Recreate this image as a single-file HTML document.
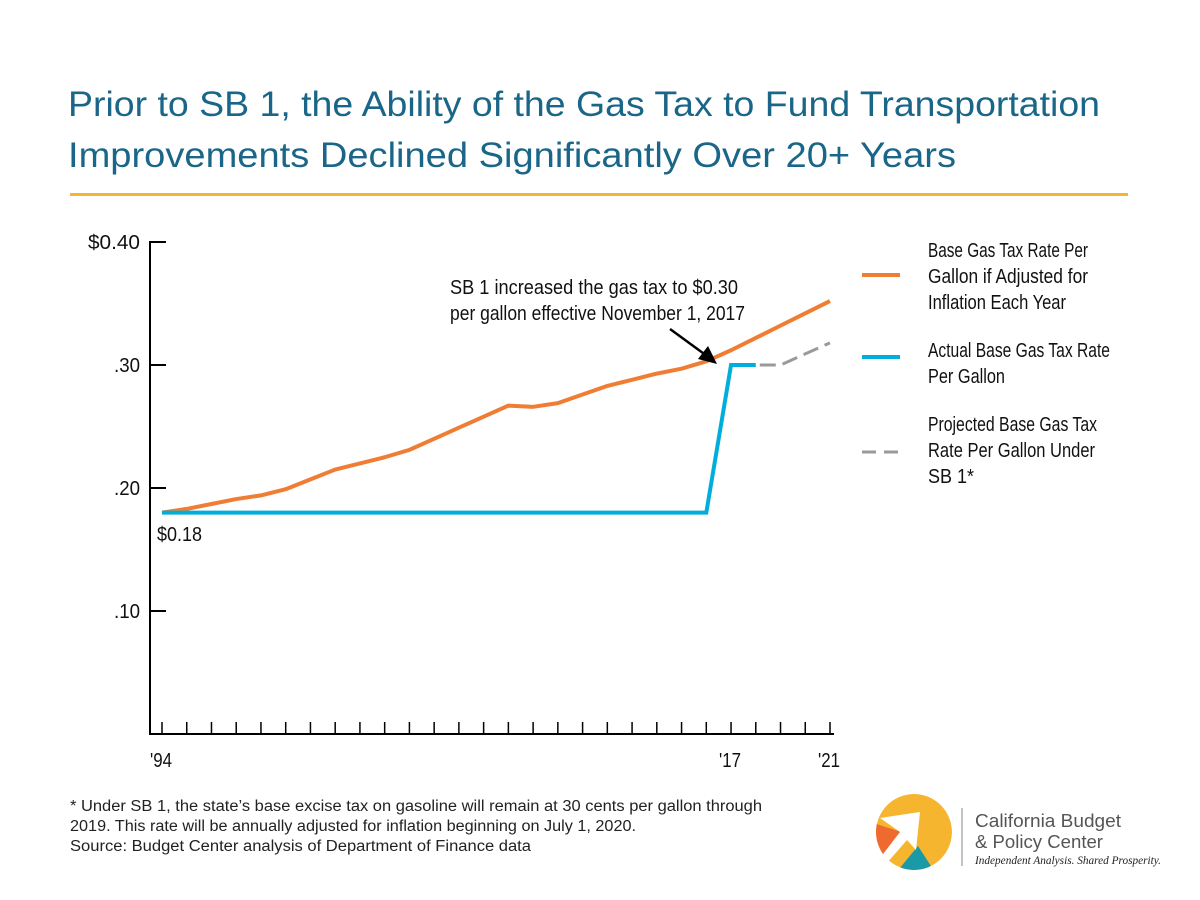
<!DOCTYPE html>
<html><head><meta charset="utf-8"><style>
body{margin:0;background:#fff;}
svg{display:block;}
.t{font-family:"Liberation Sans",sans-serif;fill:#1a6688;font-size:35px;}
.n{font-family:"Liberation Sans Narrow","Liberation Sans",sans-serif;fill:#111;font-size:20px;}
.f{font-family:"Liberation Sans",sans-serif;fill:#222;font-size:15.5px;}
</style></head><body>
<svg id="chart" width="1200" height="900" viewBox="0 0 1200 900" xmlns="http://www.w3.org/2000/svg">
<defs><clipPath id="lc"><circle cx="914" cy="832" r="38"/></clipPath></defs>
<rect width="1200" height="900" fill="#fff"/>
<text class="t" x="68" y="116" textLength="1032" lengthAdjust="spacingAndGlyphs">Prior to SB 1, the Ability of the Gas Tax to Fund Transportation</text>
<text class="t" x="68" y="167" textLength="888" lengthAdjust="spacingAndGlyphs">Improvements Declined Significantly Over 20+ Years</text>
<rect x="70" y="193" width="1058" height="3" fill="#f6b52e"/>
<g id="axes"></g>
<g id="series"></g>
<text class="n" x="157" y="541" textLength="45" lengthAdjust="spacingAndGlyphs">$0.18</text>
<text class="n" x="450" y="294" textLength="288" lengthAdjust="spacingAndGlyphs">SB 1 increased the gas tax to $0.30</text>
<text class="n" x="450" y="320" textLength="295" lengthAdjust="spacingAndGlyphs">per gallon effective November 1, 2017</text>
<line x1="670" y1="329" x2="707" y2="356" stroke="#000" stroke-width="2.5"/>
<polygon points="717,364 698,359 708,346" fill="#000"/>
<g>
<line x1="862" y1="275" x2="900" y2="275" stroke="#ef7d33" stroke-width="4"/>
<text class="n" x="928" y="257" textLength="160" lengthAdjust="spacingAndGlyphs">Base Gas Tax Rate Per</text>
<text class="n" x="928" y="283" textLength="160" lengthAdjust="spacingAndGlyphs">Gallon if Adjusted for</text>
<text class="n" x="928" y="309" textLength="138" lengthAdjust="spacingAndGlyphs">Inflation Each Year</text>
<line x1="862" y1="357" x2="900" y2="357" stroke="#00aedb" stroke-width="4"/>
<text class="n" x="928" y="357" textLength="182" lengthAdjust="spacingAndGlyphs">Actual Base Gas Tax Rate</text>
<text class="n" x="928" y="383" textLength="77" lengthAdjust="spacingAndGlyphs">Per Gallon</text>
<line x1="862" y1="452" x2="900" y2="452" stroke="#9a9a9a" stroke-width="3" stroke-dasharray="14,8"/>
<text class="n" x="928" y="431" textLength="169" lengthAdjust="spacingAndGlyphs">Projected Base Gas Tax</text>
<text class="n" x="928" y="457" textLength="167" lengthAdjust="spacingAndGlyphs">Rate Per Gallon Under</text>
<text class="n" x="928" y="483" textLength="46" lengthAdjust="spacingAndGlyphs">SB 1*</text>
</g>
<text class="f" x="70" y="811" textLength="692" lengthAdjust="spacingAndGlyphs">* Under SB 1, the state’s base excise tax on gasoline will remain at 30 cents per gallon through</text>
<text class="f" x="70" y="831" textLength="566" lengthAdjust="spacingAndGlyphs">2019. This rate will be annually adjusted for inflation beginning on July 1, 2020.</text>
<text class="f" x="70" y="851" textLength="461" lengthAdjust="spacingAndGlyphs">Source: Budget Center analysis of Department of Finance data</text>
<g>
<g clip-path="url(#lc)">
<circle cx="914" cy="832" r="38" fill="#f6b52e"/>
<polygon points="870,822 908,834 870,866" fill="#ef6a2e"/>
<polygon points="890,880 918,846 940,880" fill="#1a9aa6"/>
<polygon points="880,818 920,812 916,850 907,840 886,864 880,858 900,832" fill="#fff"/>
</g>
<line x1="962" y1="808" x2="962" y2="866" stroke="#888" stroke-width="1"/>
<text x="975" y="827" font-family="Liberation Sans,sans-serif" font-size="18" fill="#555" textLength="146" lengthAdjust="spacingAndGlyphs">California Budget</text>
<text x="975" y="848" font-family="Liberation Sans,sans-serif" font-size="18" fill="#555" textLength="128" lengthAdjust="spacingAndGlyphs">&amp; Policy Center</text>
<text x="975" y="864" font-family="Liberation Serif,serif" font-style="italic" font-size="12" fill="#222" textLength="186" lengthAdjust="spacingAndGlyphs">Independent Analysis. Shared Prosperity.</text>
</g>
</svg>
<script>
const years=[1994,1995,1996,1997,1998,1999,2000,2001,2002,2003,2004,2005,2006,2007,2008,2009,2010,2011,2012,2013,2014,2015,2016,2017,2018,2019,2020,2021];
const adjusted=[0.18,0.183,0.187,0.191,0.194,0.199,0.207,0.215,0.220,0.225,0.231,0.240,0.249,0.258,0.267,0.266,0.269,0.276,0.283,0.288,0.293,0.297,0.303,0.312,0.322,0.332,0.342,0.352];
const actualYears=[1994,2016,2017,2018];
const actual=[0.18,0.18,0.30,0.30];
const projYears=[2018,2019,2020,2021];
const projected=[0.30,0.30,0.309,0.318];
const yTicks=[0.10,0.20,0.30,0.40];
const yTickLabels=[".10",".20",".30","$0.40"];
const yLabelWidths=[26,26,26,52];
const xLabelYears=[1994,2017,2021];
const xLabels=["'94","'17","'21"];
const NS="http://www.w3.org/2000/svg";
const xS=y=>162+(y-1994)*(830-162)/27;
const yS=v=>734-v*1230;
const axes=document.getElementById('axes'),series=document.getElementById('series');
function mk(tag,attrs,parent){const e=document.createElementNS(NS,tag);for(const k in attrs)e.setAttribute(k,attrs[k]);parent.appendChild(e);return e;}
let e=mk('line',{x1:150,y1:241,x2:150,y2:734,stroke:'#000','stroke-width':2},axes);


e=mk('line',{x1:149,y1:734,x2:834,y2:734,stroke:'#000','stroke-width':2},axes);


yTicks.forEach((v,i)=>{
 const t=mk('line',{x1:150,y1:yS(v),x2:166,y2:yS(v),stroke:'#000','stroke-width':2},axes);
 
 
 const l=mk('text',{x:140-yLabelWidths[i],y:yS(v)+7,'class':'n',textLength:yLabelWidths[i],lengthAdjust:'spacingAndGlyphs'},axes);
 l.textContent=yTickLabels[i];
 
 
});
years.forEach(y=>{
 const t=mk('line',{x1:xS(y),y1:722,x2:xS(y),y2:734,stroke:'#000','stroke-width':1.5},axes);
 
 
});
xLabelYears.forEach((y,i)=>{
 const l=mk('text',{x:xS(y)-12,y:767,'class':'n',textLength:22,lengthAdjust:'spacingAndGlyphs'},axes);
 l.textContent=xLabels[i];
 
 
});
const pts=(xs,vs)=>xs.map((y,i)=>xS(y)+','+yS(vs[i])).join(' ');
let p=mk('polyline',{points:pts(years,adjusted),fill:'none',stroke:'#ef7d33','stroke-width':4,'stroke-linejoin':'round'},series);


p=mk('polyline',{points:pts(actualYears,actual),fill:'none',stroke:'#00aedb','stroke-width':4},series);


p=mk('polyline',{points:pts(projYears,projected),fill:'none',stroke:'#9a9a9a','stroke-width':3,'stroke-dasharray':'16,7','stroke-dashoffset':-4},series);


</script>
</body></html>
